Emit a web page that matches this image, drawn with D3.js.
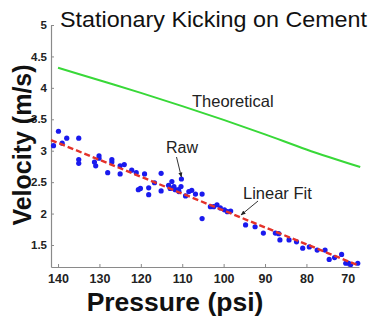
<!DOCTYPE html>
<html>
<head>
<meta charset="utf-8">
<script src="https://cdn.jsdelivr.net/npm/d3@7"></script>
<style>
  body { margin: 0; background: #fff; }
  svg { font-family: "Liberation Sans", Arial, sans-serif; }
  .tick text { font-weight: bold; fill: #222; }
  .domain, .tick line { stroke: #8a8a8a; }
</style>
</head>
<body>
<svg width="371" height="320"></svg>
<script>
var pressure = [141.1, 139.9, 139.0, 137.9, 135.0, 135.0, 135.0, 131.2, 130.9, 130.1,
  130.1, 128.0, 127.0, 127.0, 125.0, 125.0, 124.0, 122.2, 121.1, 119.1,
  120.6, 120.1, 118.1, 118.1, 116.7, 115.1, 115.1, 113.3, 112.9, 112.5,
  112.0, 111.7, 110.9, 110.8, 110.3, 110.2, 109.2, 108.4, 107.7, 106.8,
  105.2, 105.2, 103.2, 102.4, 101.6, 100.8, 99.8, 99.1, 98.3, 94.7,
  92.4, 90.4, 87.5, 86.7, 86.4, 84.2, 82.4, 80.9, 79.3, 77.4,
  75.5, 74.5, 73.2, 71.5, 70.5, 69.8, 69.3, 67.6];
var velocity = [3.08, 3.31, 3.12, 3.20, 3.20, 2.86, 2.80, 2.82, 2.76, 2.92,
  2.88, 2.65, 2.86, 2.82, 2.76, 2.63, 2.78, 2.69, 2.65, 2.63,
  2.38, 2.40, 2.41, 2.30, 2.49, 2.64, 2.36, 2.45, 2.40, 2.51,
  2.43, 2.38, 2.38, 2.35, 2.43, 2.55, 2.28, 2.35, 2.37, 2.31,
  2.31, 1.92, 2.11, 2.11, 2.14, 2.09, 2.06, 2.03, 2.04, 1.82,
  1.79, 1.69, 1.69, 1.68, 1.58, 1.58, 1.55, 1.45, 1.47, 1.42,
  1.42, 1.27, 1.30, 1.35, 1.21, 1.21, 1.19, 1.21];

// theoretical curve
var theoryP = [140, 130, 120, 110, 100, 90, 80, 67];
var theoryV = [4.32, 4.12, 3.92, 3.71, 3.49, 3.26, 3.02, 2.74];

// linear fit end points
var fitP = [141.7, 67.3];
var fitV = [3.17, 1.17];

var xTicks = [140, 130, 120, 110, 100, 90, 80, 70];
var yTicks = [1.5, 2, 2.5, 3, 3.5, 4, 4.5, 5];

var svg = d3.select("svg");

var x = d3.scaleLinear().domain([141.7, 67.3]).range([51, 359]);
var y = d3.scaleLinear().domain([1.15, 5]).range([267, 25]);

svg.append("g")
    .attr("transform", "translate(0,267)")
    .call(d3.axisBottom(x).tickValues(xTicks).tickSize(-3).tickSizeOuter(0).tickPadding(7))
    .selectAll("text").style("font-size", "12.5px");

svg.append("g")
    .attr("transform", "translate(51,0)")
    .call(d3.axisLeft(y).tickValues(yTicks).tickFormat(d3.format("")).tickSize(-3).tickSizeOuter(0).tickPadding(4))
    .selectAll("text").style("font-size", "11.5px");

svg.selectAll(".domain").attr("stroke-width", 1.2);

// theoretical
var theory = theoryP.map(function(p, i) { return [p, theoryV[i]]; });
svg.append("path")
    .datum(theory)
    .attr("fill", "none")
    .attr("stroke", "#38d838")
    .attr("stroke-width", 2)
    .attr("d", d3.line()
        .x(function(d) { return x(d[0]); })
        .y(function(d) { return y(d[1]); })
        .curve(d3.curveMonotoneX));

// raw points
svg.selectAll("circle")
    .data(pressure)
    .enter()
    .append("circle")
    .attr("cx", function(d) { return x(d); })
    .attr("cy", function(d, i) { return y(velocity[i]); })
    .attr("r", 2.6)
    .attr("fill", "#1a1aee");

// linear fit
svg.append("line")
    .attr("x1", x(fitP[0])).attr("y1", y(fitV[0]))
    .attr("x2", x(fitP[1])).attr("y2", y(fitV[1]))
    .attr("stroke", "#e4322a")
    .attr("stroke-width", 2.4)
    .attr("stroke-dasharray", "6,3");

// annotations
svg.append("defs").append("marker")
    .attr("id", "arr")
    .attr("viewBox", "0 0 10 10")
    .attr("refX", 9).attr("refY", 5)
    .attr("markerWidth", 5).attr("markerHeight", 5)
    .attr("orient", "auto")
    .append("path").attr("d", "M0,1L10,5L0,9Z").attr("fill", "#222");

svg.append("text").attr("x", 192).attr("y", 107)
    .style("font-size", "16.5px").attr("fill", "#222").text("Theoretical");

svg.append("text").attr("x", 166).attr("y", 153)
    .style("font-size", "16px").attr("fill", "#222").text("Raw");
svg.append("line")
    .attr("x1", 176.5).attr("y1", 157).attr("x2", x(110.2)).attr("y2", y(2.55) - 2)
    .attr("stroke", "#333").attr("stroke-width", 1)
    .attr("marker-end", "url(#arr)");

svg.append("text").attr("x", 243).attr("y", 199)
    .style("font-size", "16.5px").attr("fill", "#222").text("Linear Fit");
svg.append("line")
    .attr("x1", 258).attr("y1", 201).attr("x2", 241).attr("y2", 215)
    .attr("stroke", "#333").attr("stroke-width", 1)
    .attr("marker-end", "url(#arr)");

// titles
svg.append("text").attr("x", 60).attr("y", 27)
    .style("font-size", "22px").attr("fill", "#111")
    .attr("textLength", 307).attr("lengthAdjust", "spacingAndGlyphs")
    .text("Stationary Kicking on Cement");

svg.append("text")
    .attr("transform", "translate(31,145) rotate(-90)")
    .attr("text-anchor", "middle")
    .style("font-size", "25px").style("font-weight", "bold").attr("fill", "#111")
    .text("Velocity (m/s)");

svg.append("text").attr("x", 175).attr("y", 311)
    .attr("text-anchor", "middle")
    .style("font-size", "26.5px").style("font-weight", "bold").attr("fill", "#111")
    .text("Pressure (psi)");
</script>
</body>
</html>
